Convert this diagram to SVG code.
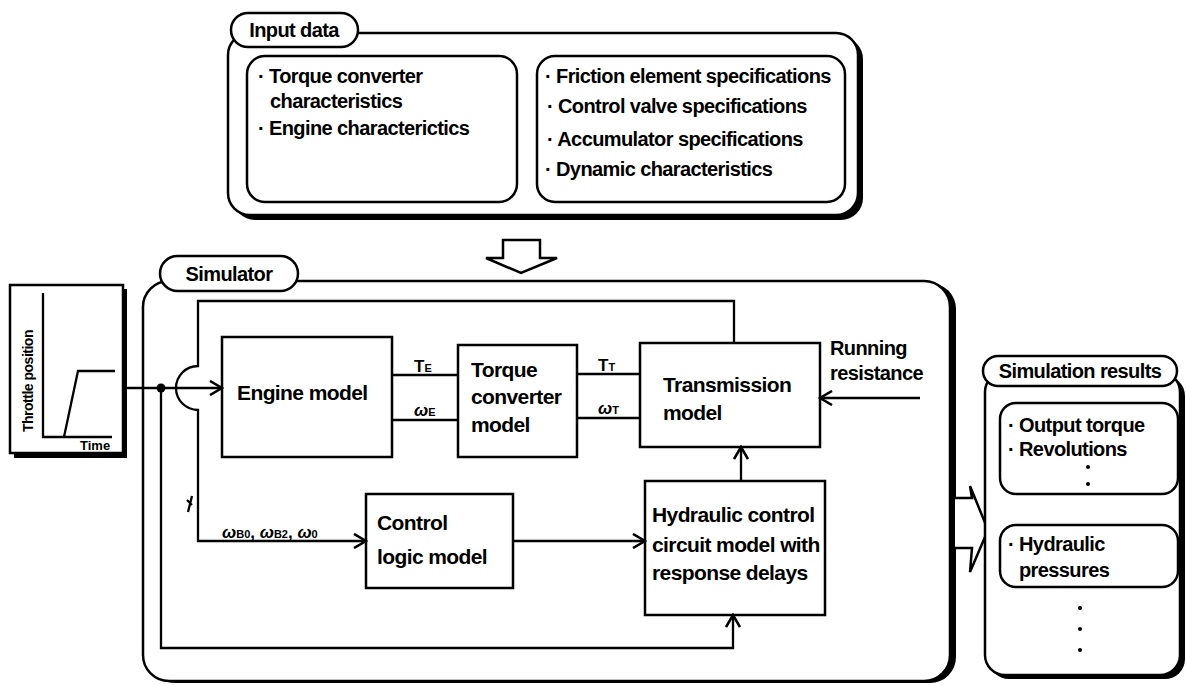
<svg xmlns="http://www.w3.org/2000/svg" width="1186" height="685" viewBox="0 0 1186 685">
<style>
text{font-family:"Liberation Sans",Arial,sans-serif;font-weight:bold;fill:#000;}
.t{font-size:21px;letter-spacing:-0.6px;}
.s{font-size:20px;letter-spacing:-0.6px;}
.sm{font-size:13px;}
.box{fill:#fff;stroke:#000;stroke-width:2.5;}
.shadow{fill:#000;stroke:none;}
.ln{fill:none;stroke:#000;stroke-width:2.3;}
.ar{fill:none;stroke:#000;stroke-width:2.3;marker-end:url(#v);}
</style>
<defs>
<marker id="v" markerUnits="userSpaceOnUse" markerWidth="16" markerHeight="16" viewBox="0 0 16 16" refX="14" refY="8" orient="auto">
<path d="M2,1 L14,8 L2,15" fill="none" stroke="#000" stroke-width="2.6"/>
</marker>
</defs>
<rect width="1186" height="685" fill="#fff"/>

<g id="input-data">
<rect class="shadow" x="233" y="37" width="630" height="183" rx="22"/>
<rect class="box" x="228" y="33" width="630" height="182" rx="22"/>
<rect class="box" x="231" y="13" width="127" height="34" rx="17"/>
<text class="s" x="294" y="37" text-anchor="middle">Input data</text>
<rect class="box" x="247" y="56" width="270" height="146" rx="18"/>
<text class="s" x="258" y="83">· Torque converter</text>
<text class="s" x="270" y="108">characteristics</text>
<text class="s" x="258" y="135">· Engine characterictics</text>
<rect class="box" x="537" y="56" width="308" height="146" rx="18"/>
<text class="s" x="545" y="83">· Friction element specifications</text>
<text class="s" x="547" y="113">· Control valve specifications</text>
<text class="s" x="547" y="146">· Accumulator specifications</text>
<text class="s" x="545" y="176">· Dynamic characteristics</text>
</g>

<g id="transfer-arrow">
<path d="M503,240 L540,240 L540,258 L557,258 L521,273 L486,258 L503,258 Z" class="box"/>
</g>

<g id="simulator">
<rect class="shadow" x="149" y="283" width="807" height="400" rx="26"/>
<rect class="box" x="143" y="281" width="807" height="400" rx="26"/>
<rect class="box" x="160" y="256" width="138" height="35" rx="17.5"/>
<text class="s" x="229" y="281" text-anchor="middle">Simulator</text>
</g>

<g id="throttle">
<rect class="shadow" x="14" y="289" width="113" height="169"/>
<rect class="box" x="10" y="285" width="113" height="168"/>
<text style="font-size:14px;letter-spacing:-0.5px" transform="translate(33,432) rotate(-90)">Throttle position</text>
<path class="ln" d="M43,293 L43,437 L112,437"/>
<path class="ln" d="M64,437 L78,371 L115,371"/>
<text class="sm" x="80" y="450">Time</text>
</g>

<g id="engine">
<rect class="box" x="222" y="337" width="170" height="120"/>
<text class="t" x="237" y="400">Engine model</text>
</g>

<g id="torque-converter">
<rect class="box" x="458" y="345" width="119" height="112"/>
<text class="t" x="471" y="377">Torque</text>
<text class="t" x="471" y="404">converter</text>
<text class="t" x="471" y="432">model</text>
</g>

<g id="transmission">
<rect class="box" x="640" y="343" width="180" height="104"/>
<text class="t" x="663" y="392">Transmission</text>
<text class="t" x="663" y="420">model</text>
</g>

<g id="control-logic">
<rect class="box" x="366" y="494" width="147" height="94"/>
<text class="t" x="377" y="530">Control</text>
<text class="t" x="377" y="564">logic model</text>
</g>

<g id="hydraulic">
<rect class="box" x="645" y="481" width="180" height="134"/>
<text class="t" x="652" y="522">Hydraulic control</text>
<text class="t" x="652" y="552">circuit model with</text>
<text class="t" x="652" y="580">response delays</text>
</g>

<g id="running-resistance">
<text class="s" x="830" y="355">Running</text>
<text class="s" x="830" y="380">resistance</text>
</g>

<g id="output-arrow">
<path d="M955,498 L972,498 L970,486 L988,530 L970,572 L972,548 L955,548" class="box"/>
</g>

<g id="sim-results">
<rect class="shadow" x="989" y="376" width="196" height="303" rx="20"/>
<rect class="box" x="985" y="372" width="195" height="303" rx="20"/>
<rect class="box" x="983" y="356" width="194" height="30" rx="15"/>
<text class="s" x="1080" y="378" text-anchor="middle">Simulation results</text>
<rect class="box" x="1000" y="403" width="178" height="91" rx="16"/>
<text class="s" x="1008" y="432">· Output torque</text>
<text class="s" x="1008" y="456">· Revolutions</text>
<circle cx="1088" cy="467" r="2"/>
<circle cx="1088" cy="484" r="2"/>
<rect class="box" x="1000" y="525" width="178" height="62" rx="16"/>
<text class="s" x="1008" y="551">· Hydraulic</text>
<text class="s" x="1019" y="577">pressures</text>
<circle cx="1080" cy="608" r="2"/>
<circle cx="1080" cy="629" r="2"/>
<circle cx="1080" cy="650" r="2"/>
</g>

<g id="connectors">
<path class="ar" d="M127,388 L222,388"/>
<circle cx="161" cy="388" r="4.5"/>
<path class="ar" d="M161,388 L161,648 L733,648 L733,615"/>
<path class="ar" d="M734,343 L734,301 L198,301 L198,366 A22,22 0 0,0 198,410 L198,541 L366,541"/>
<path class="ar" d="M513,541 L645,541"/>
<path class="ar" d="M741,481 L741,447"/>
<path class="ar" d="M920,398 L820,398"/>
<path class="ln" d="M392,375 L458,375 M392,420 L458,420 M577,374 L640,374 M577,418 L640,418"/>
<path class="ln" d="M187,500 L192,505 M192,496 L188,512" stroke-width="1.8"/>
<text x="414" y="372" font-size="17">T<tspan font-size="11">E</tspan></text>
<text x="414" y="416" font-size="17" font-style="italic">ω<tspan font-size="11" font-style="normal">E</tspan></text>
<text x="598" y="371" font-size="17">T<tspan font-size="11">T</tspan></text>
<text x="598" y="414" font-size="17" font-style="italic">ω<tspan font-size="11" font-style="normal">T</tspan></text>
<text x="222" y="538" font-size="17" font-style="italic">ω<tspan font-size="11" font-style="normal">B0</tspan><tspan font-style="normal">, </tspan>ω<tspan font-size="11" font-style="normal">B2</tspan><tspan font-style="normal">, </tspan>ω<tspan font-size="11" font-style="normal">0</tspan></text>
</g>
</svg>
